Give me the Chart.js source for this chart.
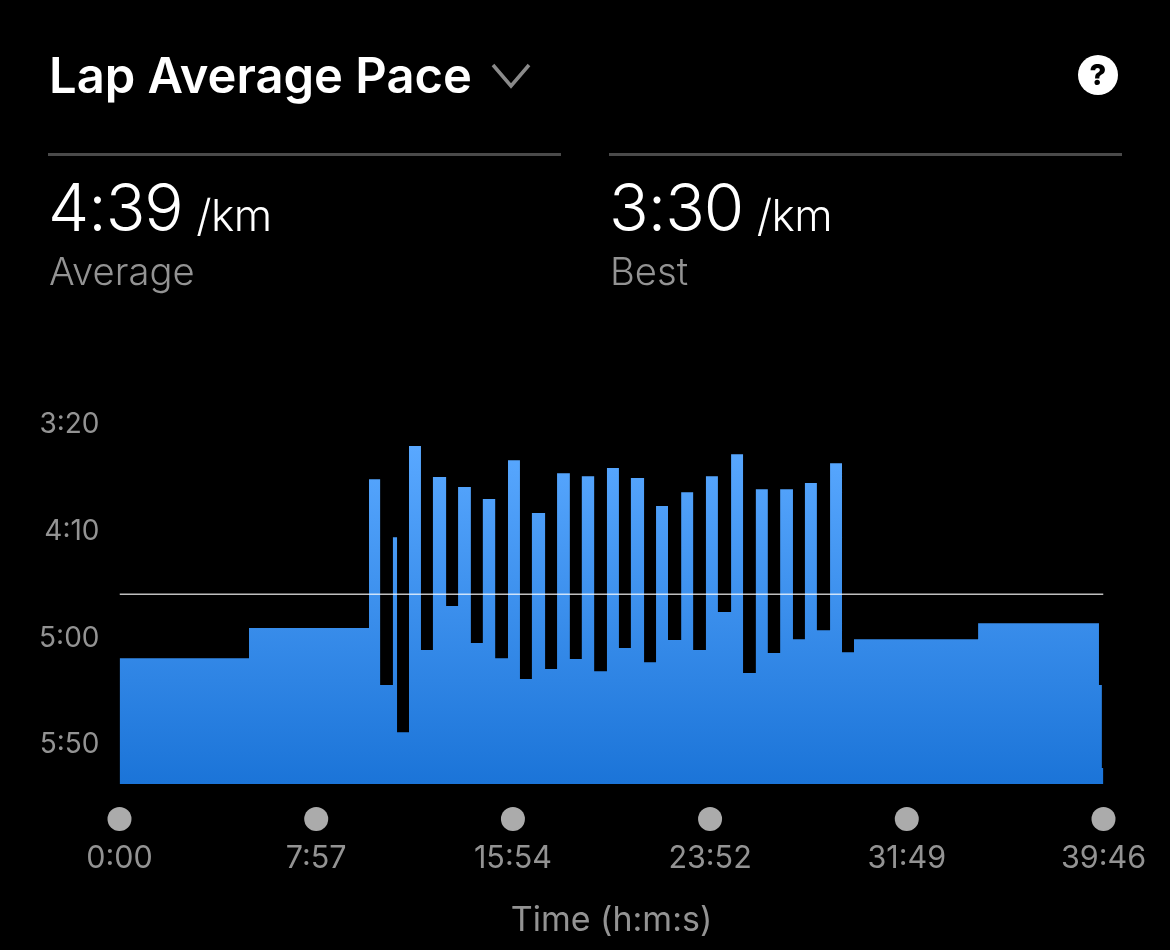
<!DOCTYPE html>
<html>
<head>
<meta charset="utf-8">
<title>Lap Average Pace</title>
<script src="https://cdn.jsdelivr.net/npm/chart.js@4"></script>
<style>
html, body { margin: 0; padding: 0; background: #000; }
#page { position: relative; width: 1170px; height: 950px; overflow: hidden; background: #000; font-family: Inter, Roboto, sans-serif; }
#page div { position: absolute; white-space: nowrap; }
canvas { position: absolute; left: 0; top: 0; }
.rule { height: 3px; background: #4a4a4a; top: 153px; width: 513px; }
.stat { top: 170px; color: #fff; font-size: 65.5px; font-weight: 300; line-height: 76px; letter-spacing: -1px; }
.stat span { font-size: 44px; letter-spacing: -0.5px; margin-left: -4px; }
.sub { top: 249px; color: #939393; font-size: 38.2px; font-weight: 300; line-height: 44px; }
</style>
</head>
<body>
<div id="page">
  <canvas id="paceChart" width="1170" height="950"></canvas>
  <div style="left:49px;top:46px;color:#fff;font-size:48.9px;font-weight:600;line-height:60px;">Lap Average Pace</div>
  <svg style="position:absolute;left:490px;top:62px" width="42" height="28"><polyline points="3,3 21,24 39,3" fill="none" stroke="#8a8a8a" stroke-width="3.5"/></svg>
  <div style="left:1078px;top:55px;width:40px;height:40px;border-radius:50%;background:#fff;color:#000;font-size:29px;font-weight:800;line-height:40px;text-align:center;">?</div>
  <div class="rule" style="left:48px"></div>
  <div class="rule" style="left:609px"></div>
  <div class="stat" style="left:48px">4:39 <span>/km</span></div>
  <div class="sub" style="left:49px">Average</div>
  <div class="stat" style="left:609px">3:30 <span>/km</span></div>
  <div class="sub" style="left:610px">Best</div>
</div>
<script>
// lap start times in seconds, and lap pace in seconds per km
var lapStarts = [0,314,605,632,663,673,702,731,760,792,821,852,881,911,942,971,1000,1032,1061,1092,1121,1151,1182,1211,1240,1272,1301,1330,1362,1391,1422,1451,1483,1512,1543,1572,1602,1633,1662,1691,1723,1752,1781,2082,2375,2382];
var lapPaces = [309.4,295.3,225.5,322,252.7,344.1,210,305.6,224.5,285,229.2,302.3,234.8,309.4,216.6,319.2,241.4,314.5,222.7,309.8,224.1,315.5,220.3,304.7,225,311.3,238.1,300.9,231.6,305.6,224.1,287.8,213.8,316.4,230.2,307,230.2,300.5,227.3,296.3,218,306.6,300.5,293,322,360.9];
var endTime = 2386;
var averagePace = 279.4;
var floorPace = 368.4;
var timeTicks = [0,477,954,1432,1909,2386];
var paceTicks = [200,250,300,350];
var dotRow = 384.8;

function fmt(sec) {
    var m = Math.floor(sec / 60);
    var s = Math.round(sec - m * 60);
    return m + ':' + (s < 10 ? '0' : '') + s;
}

var lapPoints = lapStarts.map(function (t, i) { return { x: t, y: lapPaces[i] }; });
lapPoints.push({ x: endTime, y: lapPaces[lapPaces.length - 1] });

var axisColor = '#939393';
var ctx = document.getElementById('paceChart').getContext('2d');

var myChart = new Chart(ctx, {
    type: 'line',
    data: {
        datasets: [
            {
                label: 'Time markers',
                data: timeTicks.map(function (t) { return { x: t, y: dotRow }; }),
                showLine: false,
                pointRadius: 12,
                pointBackgroundColor: '#ababab',
                pointBorderWidth: 0,
                clip: false
            },
            {
                label: 'Average',
                data: [{ x: 0, y: averagePace }, { x: endTime, y: averagePace }],
                borderColor: 'rgba(255,255,255,0.75)',
                borderWidth: 1.5,
                pointRadius: 0
            },
            {
                label: 'Lap Average Pace',
                data: lapPoints,
                stepped: 'before',
                borderWidth: 0,
                pointRadius: 0,
                fill: { value: floorPace },
                backgroundColor: function (c) {
                    var y = c.chart.scales.y;
                    if (!c.chart.chartArea || !y) return '#3a8eec';
                    var g = c.chart.ctx.createLinearGradient(0, y.getPixelForValue(210), 0, y.getPixelForValue(floorPace));
                    g.addColorStop(0, '#59a8ff');
                    g.addColorStop(1, '#1b74d8');
                    return g;
                }
            }
        ]
    },
    options: {
        responsive: false,
        animation: false,
        devicePixelRatio: 1,
        layout: { padding: { top: 400, right: 66.5, bottom: 0, left: 0 } },
        plugins: { legend: { display: false }, tooltip: { enabled: false } },
        scales: {
            x: {
                type: 'linear',
                min: 0,
                max: endTime,
                grid: { display: false, drawTicks: false },
                border: { display: false },
                afterFit: function (s) { s.height = 115; },
                afterBuildTicks: function (s) { s.ticks = timeTicks.map(function (t) { return { value: t }; }); },
                ticks: {
                    autoSkip: false,
                    maxRotation: 0,
                    padding: 6,
                    color: axisColor,
                    font: { family: 'Inter', size: 30.5 },
                    callback: function (v) { return fmt(v); }
                },
                title: {
                    display: true,
                    text: 'Time (h:m:s)',
                    color: axisColor,
                    font: { family: 'Inter', size: 34 },
                    padding: { top: 0, bottom: 9 }
                }
            },
            y: {
                type: 'linear',
                reverse: true,
                min: 188.4,
                max: 392.3,
                grid: { display: false, drawTicks: false },
                border: { display: false },
                afterFit: function (s) { s.width = 119.5; },
                afterBuildTicks: function (s) { s.ticks = paceTicks.map(function (t) { return { value: t }; }); },
                ticks: {
                    padding: 20,
                    color: axisColor,
                    font: { family: 'Inter', size: 28 },
                    callback: function (v) { return fmt(v); }
                }
            }
        }
    }
});
</script>
</body>
</html>
